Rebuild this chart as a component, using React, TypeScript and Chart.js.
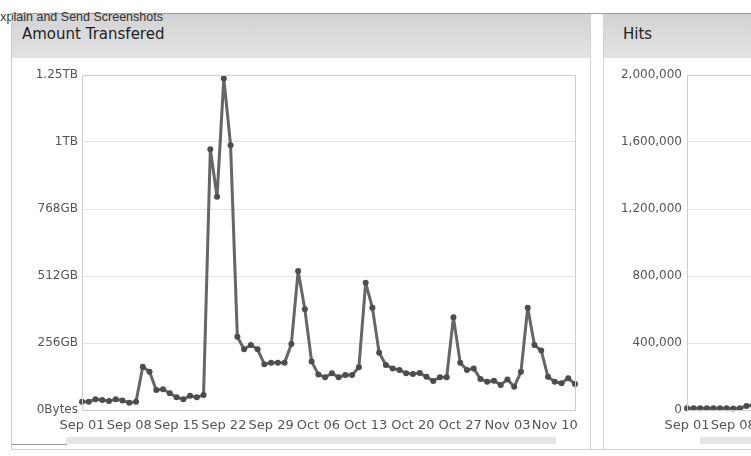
import React, { useEffect, useRef } from "react";
import { Chart, registerables } from "chart.js";

Chart.register(...registerables);

// ---- data ----
const startYear = 2013;
const dayCount = 74; // Sep 01 .. Nov 13
const monthNames = ["Jan", "Feb", "Mar", "Apr", "May", "Jun", "Jul", "Aug", "Sep", "Oct", "Nov", "Dec"];
const categories: string[] = Array.from({ length: dayCount }, (_, i) => {
  const d = new Date(startYear, 8, 1 + i);
  return monthNames[d.getMonth()] + " " + String(d.getDate()).padStart(2, "0");
});

// Amount transferred per day, in GB
const transferGB = [
  32, 32, 41, 38, 34, 41, 36, 28, 32, 165,
  146, 76, 79, 64, 49, 41, 54, 49, 57, 996,
  815, 1267, 1012, 280, 232, 248, 232, 175, 181, 181,
  181, 252, 531, 385, 185, 136, 125, 140, 125, 134,
  134, 163, 486, 391, 219, 172, 159, 153, 140, 138,
  141, 127, 111, 125, 125, 354, 181, 153, 159, 118,
  108, 112, 96, 117, 89, 146, 391, 248, 227, 127,
  108, 102, 121, 99,
];

// Hits per day
const hits = [
  10000, 10000, 11000, 10500, 10000, 11000, 10500, 9500, 10000, 24000,
  28000, 20000, 19000, 17000, 15000, 14000, 15000, 14500, 15500, 1500000,
  1250000, 1900000, 1550000, 420000, 360000, 380000, 350000, 270000, 280000, 275000,
  280000, 390000, 800000, 590000, 285000, 210000, 190000, 215000, 195000, 205000,
  200000, 250000, 740000, 600000, 330000, 265000, 245000, 235000, 215000, 210000,
  215000, 195000, 170000, 190000, 190000, 540000, 275000, 235000, 245000, 180000,
  165000, 170000, 145000, 180000, 135000, 220000, 600000, 380000, 345000, 195000,
  165000, 155000, 185000, 150000,
];

const transferTickLabels = ["0Bytes", "256GB", "512GB", "768GB", "1TB", "1.25TB"];
const transferStep = 256;
const hitsMax = 2000000;
const hitsStep = 400000;

const FONT = "'DejaVu Sans', 'Noto Sans', sans-serif";

const plotBox = {
  id: "plotBox",
  afterDraw(chart: any) {
    const a = chart.chartArea;
    const ctx = chart.ctx;
    ctx.save();
    ctx.strokeStyle = "#cdcdcd";
    ctx.lineWidth = 1;
    ctx.strokeRect(Math.round(a.left) + 0.5, Math.round(a.top) + 0.5, Math.round(a.right - a.left), Math.round(a.bottom - a.top));
    ctx.restore();
  },
};

function makeConfig(values: number[], yAxis: any, yWidth: number): any {
  return {
    type: "line",
    data: {
      labels: categories,
      datasets: [
        {
          data: values,
          borderColor: "#666666",
          borderWidth: 3,
          borderJoinStyle: "round",
          borderCapStyle: "round",
          pointRadius: 3,
          pointBackgroundColor: "#4d4d4d",
          pointBorderWidth: 0,
          tension: 0,
          clip: false,
        },
      ],
    },
    options: {
      animation: false,
      responsive: true,
      maintainAspectRatio: false,
      layout: { padding: { top: 17, right: 15, left: 0, bottom: 0 } },
      plugins: { legend: { display: false }, tooltip: { enabled: false } },
      scales: {
        x: {
          grid: { display: false, drawTicks: false },
          border: { display: false },
          ticks: {
            autoSkip: false,
            maxRotation: 0,
            minRotation: 0,
            padding: 8,
            color: "#555",
            font: { family: FONT, size: 13 },
            callback: function (this: any, v: any, i: number) {
              return i % 7 === 0 ? categories[i] : "";
            },
          },
          afterFit(scale: any) {
            scale.height = 28;
          },
        },
        y: {
          ...yAxis,
          grid: { color: "#e4e4e4", lineWidth: 1, drawTicks: false },
          border: { display: false },
          afterFit(scale: any) {
            scale.width = yWidth;
          },
        },
      },
    },
    plugins: [plotBox],
  };
}

function LineChart({ config }: { config: any }) {
  const ref = useRef<HTMLCanvasElement | null>(null);
  useEffect(() => {
    if (!ref.current) return;
    const chart = new Chart(ref.current, config);
    return () => chart.destroy();
  }, [config]);
  return <canvas ref={ref} />;
}

const transferConfig = makeConfig(
  transferGB,
  {
    min: 0,
    max: transferStep * 5,
    ticks: {
      stepSize: transferStep,
      padding: 4,
      color: "#555",
      font: { family: FONT, size: 12 },
      callback: (v: number) => transferTickLabels[Math.round(v / transferStep)] ?? "",
    },
  },
  70
);

const hitsConfig = makeConfig(
  hits,
  {
    min: 0,
    max: hitsMax,
    ticks: {
      stepSize: hitsStep,
      padding: 5,
      color: "#555",
      font: { family: FONT, size: 12 },
      callback: (v: number) => Number(v).toLocaleString("en-US"),
    },
  },
  81
);

const headerBg = "linear-gradient(#d3d3d3, #e3e3e3)";

export default function App() {
  return (
    <div
      style={{
        position: "fixed",
        left: 0,
        top: 0,
        width: 751,
        height: 456,
        overflow: "hidden",
        background: "#fff",
        fontFamily: FONT,
      }}
    >
      {/* top rule */}
      <div style={{ position: "absolute", left: 11, top: 13, width: 760, height: 1, background: "#9c9c9c" }} />
      {/* headers */}
      <div style={{ position: "absolute", left: 11, top: 14, width: 579, height: 44, background: headerBg }} />
      <div style={{ position: "absolute", left: 604, top: 14, width: 600, height: 44, background: headerBg }} />
      <div
        style={{
          position: "absolute",
          left: -8,
          top: 10,
          fontFamily: "'Liberation Sans', Arial, sans-serif",
          fontSize: 12.5,
          color: "#333",
          whiteSpace: "nowrap",
          lineHeight: "14px",
        }}
      >
        Explain and Send Screenshots
      </div>
      <div style={{ position: "absolute", left: 22, top: 24, fontSize: 15, color: "#222", whiteSpace: "nowrap", lineHeight: "20px" }}>
        Amount Transfered
      </div>
      <div style={{ position: "absolute", left: 623, top: 24, fontSize: 15, color: "#222", whiteSpace: "nowrap", lineHeight: "20px" }}>
        Hits
      </div>
      {/* panel borders */}
      <div style={{ position: "absolute", left: 11, top: 14, width: 1, height: 436, background: "#c9c9c9" }} />
      <div style={{ position: "absolute", left: 590, top: 14, width: 1, height: 436, background: "#d2d2d2" }} />
      <div style={{ position: "absolute", left: 603, top: 14, width: 1, height: 436, background: "#d2d2d2" }} />
      <div style={{ position: "absolute", left: 11, top: 449, width: 760, height: 1, background: "#d0d0d0" }} />
      {/* faint footer bands */}
      <div style={{ position: "absolute", left: 12, top: 444, width: 55, height: 1, background: "#9a9a9a" }} />
      <div style={{ position: "absolute", left: 66, top: 437, width: 490, height: 7, background: "#e6e6e6" }} />
      <div style={{ position: "absolute", left: 700, top: 437, width: 60, height: 7, background: "#e6e6e6" }} />
      {/* charts */}
      <div style={{ position: "absolute", left: 12, top: 58, width: 578, height: 380 }}>
        <LineChart config={transferConfig} />
      </div>
      <div style={{ position: "absolute", left: 606, top: 58, width: 578, height: 380 }}>
        <LineChart config={hitsConfig} />
      </div>
    </div>
  );
}
